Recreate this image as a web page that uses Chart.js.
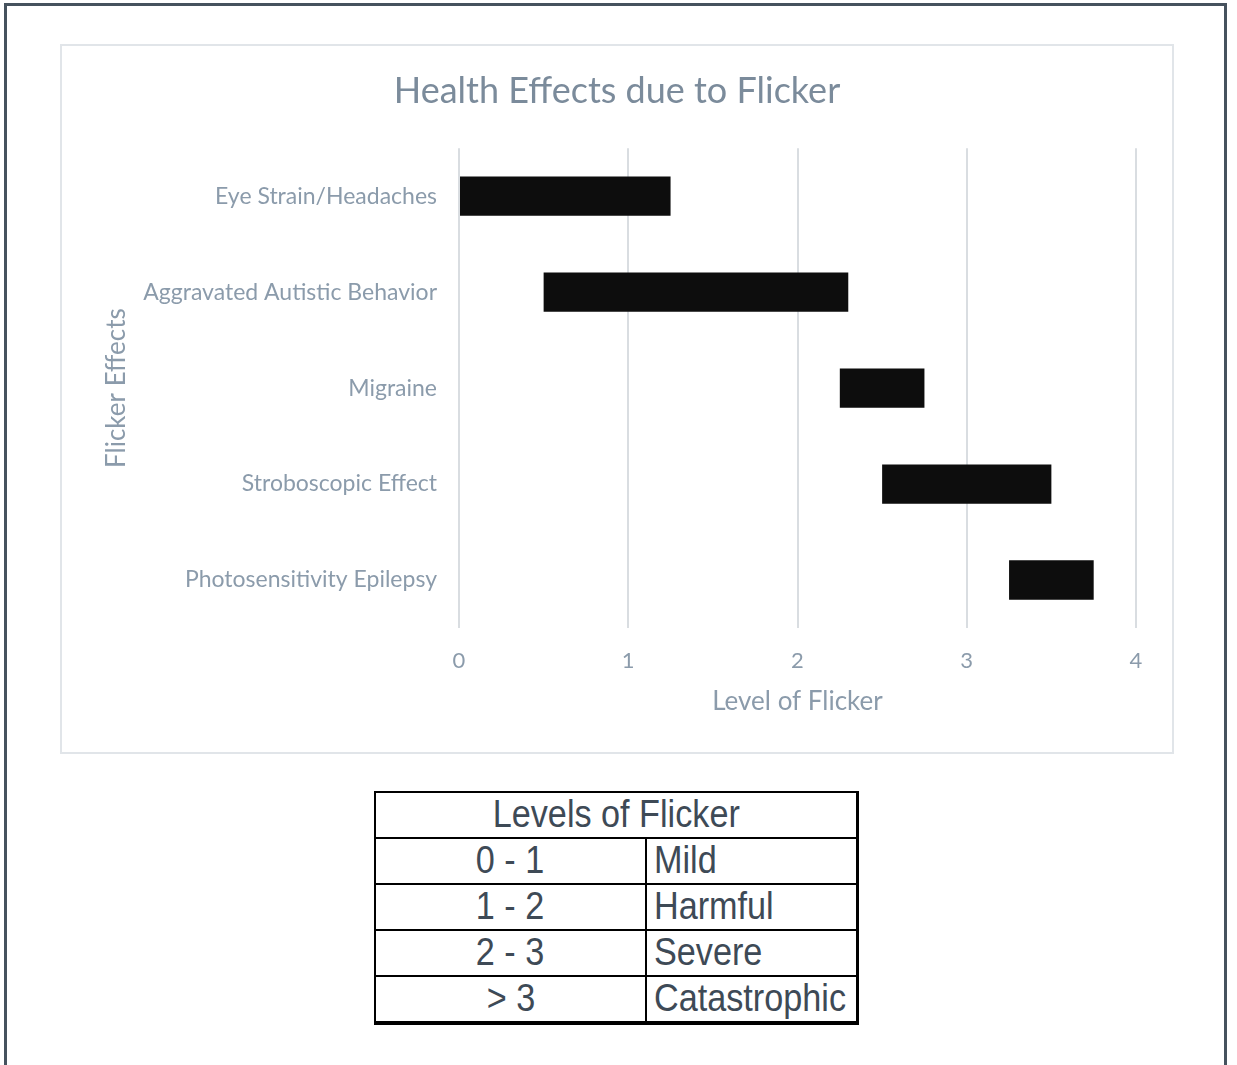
<!DOCTYPE html>
<html>
<head>
<meta charset="utf-8">
<script src="https://cdn.jsdelivr.net/npm/chart.js@4/dist/chart.umd.min.js"></script>
<style>
  html, body { margin: 0; padding: 0; background: #fff; }
  body { width: 1237px; height: 1065px; position: relative; overflow: hidden; }
  #frame { position: absolute; left: 4px; top: 3px; width: 1223px; height: 1100px; border: 3px solid #46525e; box-sizing: border-box; }
  #chartBox { position: absolute; left: 60px; top: 44px; width: 1114px; height: 710px; border: 2px solid #e1e5e9; box-sizing: border-box; background: #fff; }
  #chartBox canvas { position: absolute; left: 0; top: 0; }
  #levels { position: absolute; left: 374px; top: 791px; width: 485px; border-collapse: collapse; font-family: "Liberation Sans", Arial, sans-serif; color: #3e4a56; table-layout: fixed; }
  #levels td { border: 2px solid #000; height: 44px; padding: 0; line-height: 44px; overflow: hidden; white-space: nowrap; box-sizing: border-box; }
  #levels tr:last-child td { border-bottom: 4px solid #000; }
  #levels td.last { border-right: 3px solid #000; }
  #levels .t { display: inline-block; font-size: 38px; line-height: 42px; height: 44px; vertical-align: top; transform: scaleX(0.9); }
  #levels td.c { text-align: center; }
  #levels td.l { text-align: left; padding-left: 7px; }
  #levels td.l .t { transform-origin: left center; }
</style>
</head>
<body>
<div id="frame"></div>
<div id="chartBox"><canvas id="c" width="1110" height="706"></canvas></div>
<table id="levels"></table>
<script>
const categories = ["Eye Strain/Headaches", "Aggravated Autistic Behavior", "Migraine", "Stroboscopic Effect", "Photosensitivity Epilepsy"];
const startValues = [0, 0.5, 2.25, 2.5, 3.25];
const endValues = [1.25, 2.3, 2.75, 3.5, 3.75];
const chartTitle = "Health Effects due to Flicker";
const xAxisTitle = "Level of Flicker";
const yAxisTitle = "Flicker Effects";
const levelRanges = ["0 - 1", "1 - 2", "2 - 3", "> 3"];
const levelNames = ["Mild", "Harmful", "Severe", "Catastrophic"];
const tableTitle = "Levels of Flicker";

// table
const tbl = document.getElementById('levels');
let html = '<colgroup><col style="width:271px"><col></colgroup>';
html += '<tr><td class="c last" colspan="2"><span class="t">' + tableTitle + '</span></td></tr>';
for (let i = 0; i < levelRanges.length; i++) {
  const r = levelRanges[i].replace('>', '&gt;');
  html += '<tr><td class="c"><span class="t">' + r + '</span></td><td class="l last"><span class="t">' + levelNames[i] + '</span></td></tr>';
}
tbl.innerHTML = html;

const labelFont = "Lato, 'Open Sans', sans-serif";
const data = {
  labels: categories,
  datasets: [{
    data: categories.map((c, i) => [startValues[i], endValues[i]]),
    backgroundColor: '#0d0d0d',
    borderWidth: 0,
    categoryPercentage: 1,
    barPercentage: 0.41
  }]
};

new Chart(document.getElementById('c'), {
  type: 'bar',
  data: data,
  options: {
    indexAxis: 'y',
    responsive: false,
    animation: false,
    layout: { padding: { top: 24, right: 36, bottom: 0, left: 36 } },
    plugins: {
      legend: { display: false },
      tooltip: { enabled: false },
      title: {
        display: true,
        text: chartTitle,
        color: '#7b8b9b',
        font: { family: labelFont, size: 36, weight: 'normal', lineHeight: 1.2 },
        padding: { top: 0, bottom: 35 }
      }
    },
    scales: {
      x: {
        min: 0, max: 4,
        ticks: { stepSize: 1, color: '#8b9bab', padding: 20, font: { family: labelFont, size: 22 } },
        grid: { color: '#d9dde1', lineWidth: 2, drawTicks: false },
        border: { display: false },
        title: { display: true, text: xAxisTitle, color: '#8b9bab', font: { family: labelFont, size: 26 }, padding: { top: 0, bottom: 35 } },
        afterFit: s => { s.height = 124; }
      },
      y: {
        ticks: { color: '#8b9bab', padding: 22, font: { family: labelFont, size: 23 } },
        grid: { display: false, drawTicks: false },
        border: { display: false },
        title: { display: true, text: yAxisTitle, color: '#8b9bab', font: { family: labelFont, size: 26 }, padding: { top: 3, bottom: 0 } },
        afterFit: s => { s.width = 361; }
      }
    }
  }
});
</script>
</body>
</html>
